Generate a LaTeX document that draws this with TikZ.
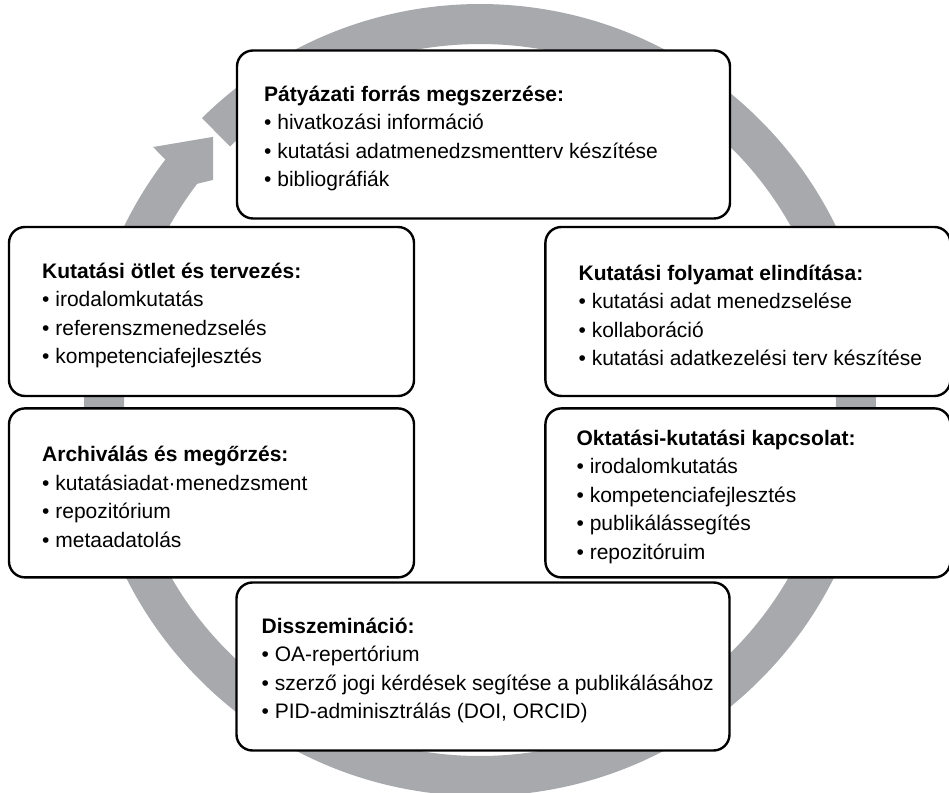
\documentclass[tikz,border=0pt]{standalone}
\usepackage{fontspec}
\setmainfont{Liberation Sans}
\usetikzlibrary{positioning}
\definecolor{ringgray}{HTML}{A7A9AC}

\begin{document}
\begin{tikzpicture}[x=0.5pt, y=0.5pt,
    box/.style={draw=black, fill=white, line width=1.2pt, rounded corners=8pt, inner sep=0pt},
    widebox/.style={box, minimum width=246.5pt, minimum height=84pt},
    sidebox/.style={box, minimum width=202.5pt, minimum height=84.5pt},
    txt/.style={align=left, inner sep=0pt, yshift=-2pt, font=\fontsize{10.5}{14.25}\selectfont}]
    \useasboundingbox (0,0) rectangle (949,793);
    \fill[ringgray] ([shift={(480,393)}]134.6:396) arc[start angle=134.6, end angle=-217.7, radius=396]
        -- ([shift={(480,393)}]-217.7:356) arc[start angle=-217.7, end angle=134.6, radius=356] -- cycle;
    \fill[ringgray] ([shift={(480,393)}]142.6:396) -- ([shift={(480,393)}]142.27:413.4)
        -- ([shift={(480,393)}]135.4:374.8) -- ([shift={(480,393)}]140.5:346)
        -- ([shift={(480,393)}]142.6:356) -- cycle;
    \node[widebox] (palyazat) at (483.5,658.5) {};
    \node[sidebox] (otlet) at (211.5,481.5) {};
    \node[sidebox] (folyamat) [right=64.5pt of otlet] {};
    \node[sidebox] (archival) [below=5pt of otlet] {};
    \node[sidebox] (oktatas) [below=5pt of folyamat] {};
    \node[widebox] (dissz) at (483,126.5) {};
    \node[txt, right=14pt of palyazat.west] {\textbf{Pátyázati forrás megszerzése:}\\
        • hivatkozási információ\\ • kutatási adatmenedzsmentterv készítése\\ • bibliográfiák};
    \node[txt, right=17pt of otlet.west] {\textbf{Kutatási ötlet és tervezés:}\\
        • irodalomkutatás\\ • referenszmenedzselés\\ • kompetenciafejlesztés};
    \node[txt, right=17pt of folyamat.west] {\textbf{Kutatási folyamat elindítása:}\\
        • kutatási adat menedzselése\\ • kollaboráció\\ • kutatási adatkezelési terv készítése};
    \node[txt, right=17pt of archival.west] {\textbf{Archiválás és megőrzés:}\\
        • kutatásiadat·menedzsment\\ • repozitórium\\ • metaadatolás};
    \node[txt, right=16pt of oktatas.west] {\textbf{Oktatási-kutatási kapcsolat:}\\
        • irodalomkutatás\\ • kompetenciafejlesztés\\ • publikálássegítés\\ • repozitóruim};
    \node[txt, right=13pt of dissz.west] {\textbf{Disszemináció:}\\
        • OA-repertórium\\ • szerző jogi kérdések segítése a publikálásához\\ • PID-adminisztrálás (DOI, ORCID)};
\end{tikzpicture}
\end{document}
